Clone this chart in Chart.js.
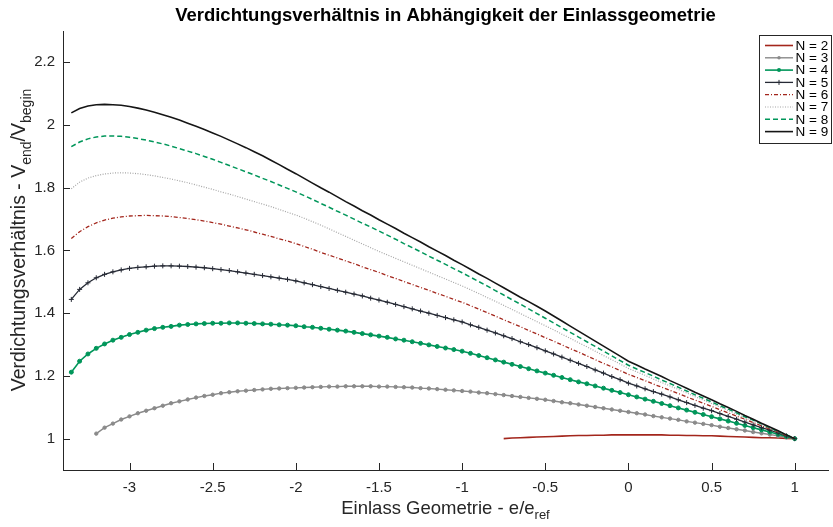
<!DOCTYPE html>
<html>
<head>
<meta charset="utf-8">
<script src="https://cdn.jsdelivr.net/npm/chart.js@4.4.1/dist/chart.umd.min.js"></script>
<style>
  html, body { margin: 0; padding: 0; background: #fff; }
  #wrap { width: 833px; height: 527px; }
</style>
</head>
<body>
<div id="wrap"><canvas id="chart" width="833" height="527"></canvas></div>
<script>
// ---- data ----
const xs = [
  -3.35, -3.3, -3.25, -3.2, -3.15, -3.1, -3.05, -3, -2.95, -2.9,
  -2.85, -2.8, -2.75, -2.7, -2.65, -2.6, -2.55, -2.5, -2.45, -2.4,
  -2.35, -2.3, -2.25, -2.2, -2.15, -2.1, -2.05, -2, -1.95, -1.9,
  -1.85, -1.8, -1.75, -1.7, -1.65, -1.6, -1.55, -1.5, -1.45, -1.4,
  -1.35, -1.3, -1.25, -1.2, -1.15, -1.1, -1.05, -1, -0.95, -0.9,
  -0.85, -0.8, -0.75, -0.7, -0.65, -0.6, -0.55, -0.5, -0.45, -0.4,
  -0.35, -0.3, -0.25, -0.2, -0.15, -0.1, -0.05, 0, 0.05, 0.1,
  0.15, 0.2, 0.25, 0.3, 0.35, 0.4, 0.45, 0.5, 0.55, 0.6,
  0.65, 0.7, 0.75, 0.8, 0.85, 0.9, 0.95, 1
];

// N = 2 starts at x = -0.75
const n2 = [
  1.000, 1.002, 1.003, 1.004, 1.005, 1.006, 1.007, 1.008, 1.009, 1.010,
  1.010, 1.011, 1.011, 1.012, 1.012, 1.012, 1.012, 1.012, 1.012, 1.012,
  1.011, 1.011, 1.010, 1.010, 1.009, 1.009, 1.008, 1.007, 1.006, 1.005,
  1.004, 1.003, 1.003, 1.002, 1.001, 1.000
];
// N = 3 starts at x = -3.2
const n3 = [
  1.016, 1.035, 1.048, 1.061, 1.071, 1.081, 1.089,
  1.097, 1.105, 1.113, 1.119, 1.125, 1.131, 1.136, 1.140, 1.145, 1.148,
  1.151, 1.153, 1.155, 1.157, 1.159, 1.160, 1.161, 1.162, 1.163, 1.164,
  1.165, 1.166, 1.166, 1.167, 1.167, 1.167, 1.167, 1.166, 1.166, 1.165,
  1.164, 1.163, 1.161, 1.160, 1.158, 1.156, 1.154, 1.152, 1.150, 1.147,
  1.145, 1.142, 1.139, 1.136, 1.133, 1.130, 1.127, 1.124, 1.120, 1.116,
  1.113, 1.109, 1.105, 1.101, 1.097, 1.093, 1.089, 1.085, 1.081, 1.077,
  1.072, 1.068, 1.064, 1.060, 1.055, 1.051, 1.047, 1.043, 1.038, 1.034,
  1.030, 1.026, 1.021, 1.017, 1.013, 1.009, 1.004, 1.000
];
const n4 = [
  1.212, 1.247, 1.270, 1.288, 1.302, 1.314, 1.323, 1.332, 1.339, 1.346,
  1.351, 1.355, 1.358, 1.362, 1.364, 1.366, 1.367, 1.368, 1.368, 1.369,
  1.369, 1.368, 1.367, 1.366, 1.365, 1.363, 1.362, 1.360, 1.357, 1.355,
  1.352, 1.349, 1.346, 1.343, 1.339, 1.335, 1.331, 1.327, 1.323, 1.318,
  1.314, 1.309, 1.304, 1.299, 1.294, 1.289, 1.284, 1.279, 1.272, 1.265,
  1.258, 1.251, 1.244, 1.237, 1.230, 1.223, 1.216, 1.209, 1.202, 1.195,
  1.188, 1.181, 1.175, 1.168, 1.161, 1.154, 1.147, 1.140, 1.133, 1.126,
  1.119, 1.112, 1.105, 1.098, 1.091, 1.084, 1.077, 1.070, 1.063, 1.056,
  1.049, 1.042, 1.035, 1.028, 1.021, 1.014, 1.007, 1.000
];
const n5 = [
  1.444, 1.476, 1.497, 1.513, 1.524, 1.532, 1.538, 1.543, 1.546, 1.548,
  1.550, 1.551, 1.551, 1.550, 1.549, 1.547, 1.545, 1.542, 1.539, 1.536,
  1.532, 1.528, 1.524, 1.520, 1.516, 1.512, 1.508, 1.503, 1.497, 1.491,
  1.485, 1.479, 1.473, 1.467, 1.461, 1.455, 1.448, 1.442, 1.435, 1.428,
  1.421, 1.414, 1.407, 1.400, 1.393, 1.386, 1.379, 1.372, 1.363, 1.355,
  1.346, 1.337, 1.328, 1.319, 1.309, 1.300, 1.290, 1.280, 1.270, 1.260,
  1.250, 1.240, 1.230, 1.219, 1.209, 1.198, 1.188, 1.177, 1.168, 1.159,
  1.150, 1.142, 1.133, 1.124, 1.115, 1.106, 1.097, 1.089, 1.080, 1.071,
  1.062, 1.053, 1.044, 1.035, 1.027, 1.018, 1.009, 1.000
];
const n6 = [
  1.638, 1.660, 1.676, 1.688, 1.697, 1.703, 1.707, 1.710, 1.711, 1.712,
  1.711, 1.710, 1.708, 1.705, 1.702, 1.698, 1.694, 1.689, 1.684, 1.678,
  1.672, 1.666, 1.659, 1.652, 1.645, 1.637, 1.630, 1.622, 1.613, 1.604,
  1.594, 1.585, 1.576, 1.567, 1.558, 1.548, 1.539, 1.530, 1.520, 1.511,
  1.501, 1.492, 1.482, 1.473, 1.463, 1.454, 1.444, 1.435, 1.424, 1.413,
  1.402, 1.391, 1.379, 1.368, 1.357, 1.345, 1.334, 1.322, 1.311, 1.299,
  1.287, 1.276, 1.264, 1.252, 1.240, 1.229, 1.217, 1.205, 1.195, 1.185,
  1.174, 1.164, 1.154, 1.144, 1.133, 1.123, 1.113, 1.103, 1.092, 1.082,
  1.072, 1.062, 1.051, 1.041, 1.031, 1.021, 1.010, 1.000
];
const n7 = [
  1.797, 1.818, 1.831, 1.839, 1.844, 1.847, 1.848, 1.847, 1.845, 1.842,
  1.838, 1.833, 1.828, 1.822, 1.816, 1.809, 1.802, 1.795, 1.787, 1.780,
  1.772, 1.764, 1.756, 1.748, 1.740, 1.731, 1.722, 1.713, 1.703, 1.692,
  1.681, 1.669, 1.657, 1.645, 1.633, 1.621, 1.609, 1.597, 1.586, 1.575,
  1.564, 1.553, 1.542, 1.531, 1.520, 1.509, 1.498, 1.487, 1.475, 1.463,
  1.450, 1.438, 1.425, 1.412, 1.399, 1.386, 1.373, 1.360, 1.347, 1.333,
  1.320, 1.306, 1.293, 1.279, 1.265, 1.252, 1.238, 1.224, 1.213, 1.202,
  1.190, 1.179, 1.168, 1.157, 1.146, 1.134, 1.123, 1.112, 1.101, 1.090,
  1.078, 1.067, 1.056, 1.045, 1.034, 1.022, 1.011, 1.000
];
const n8 = [
  1.931, 1.946, 1.956, 1.962, 1.965, 1.965, 1.964, 1.961, 1.957, 1.952,
  1.946, 1.940, 1.933, 1.925, 1.917, 1.909, 1.900, 1.891, 1.881, 1.871,
  1.861, 1.851, 1.841, 1.830, 1.820, 1.809, 1.798, 1.787, 1.775, 1.763,
  1.750, 1.738, 1.725, 1.713, 1.700, 1.687, 1.675, 1.662, 1.649, 1.636,
  1.622, 1.609, 1.596, 1.582, 1.569, 1.556, 1.542, 1.529, 1.515, 1.501,
  1.487, 1.472, 1.458, 1.443, 1.429, 1.414, 1.399, 1.384, 1.369, 1.354,
  1.339, 1.324, 1.309, 1.294, 1.279, 1.264, 1.249, 1.234, 1.222, 1.211,
  1.199, 1.187, 1.176, 1.164, 1.152, 1.140, 1.129, 1.117, 1.105, 1.094,
  1.082, 1.070, 1.059, 1.047, 1.035, 1.023, 1.012, 1.000
];
const n9 = [
  2.039, 2.053, 2.061, 2.065, 2.066, 2.065, 2.063, 2.059, 2.054, 2.048,
  2.041, 2.033, 2.025, 2.016, 2.006, 1.996, 1.986, 1.975, 1.964, 1.952,
  1.940, 1.928, 1.915, 1.902, 1.888, 1.874, 1.859, 1.845, 1.830, 1.815,
  1.800, 1.786, 1.771, 1.756, 1.742, 1.727, 1.713, 1.698, 1.684, 1.670,
  1.655, 1.641, 1.627, 1.612, 1.598, 1.584, 1.569, 1.555, 1.540, 1.525,
  1.511, 1.496, 1.481, 1.466, 1.451, 1.437, 1.422, 1.407, 1.391, 1.375,
  1.359, 1.343, 1.327, 1.311, 1.295, 1.279, 1.263, 1.247, 1.235, 1.222,
  1.210, 1.198, 1.185, 1.173, 1.161, 1.148, 1.136, 1.124, 1.111, 1.099,
  1.087, 1.074, 1.062, 1.049, 1.037, 1.025, 1.012, 1.000
];

const xTicks = [-3, -2.5, -2, -1.5, -1, -0.5, 0, 0.5, 1];
const yTicks = [1, 1.2, 1.4, 1.6, 1.8, 2, 2.2];

const FONT = '"Liberation Sans", Arial, Helvetica, sans-serif';
const INK = '#262626';
const RED = '#a3261c';
const GREEN = '#00965a';

function pts(values, startX) {
  const off = xs.indexOf(startX);
  return values.map((y, i) => ({ x: xs[off + i], y: y }));
}

// style per series (line + marker)
const series = [
  { label: 'N = 2', data: pts(n2, -0.75), color: RED, width: 1.6, dash: [], marker: null },
  { label: 'N = 3', data: pts(n3, -3.2), color: '#8a8a8a', width: 1.4, dash: [], marker: 'circle', r: 1.7 },
  { label: 'N = 4', data: pts(n4, -3.35), color: GREEN, width: 1.6, dash: [], marker: 'circle', r: 2 },
  { label: 'N = 5', data: pts(n5, -3.35), color: '#262a35', width: 1.3, dash: [], marker: 'cross', r: 2.5 },
  { label: 'N = 6', data: pts(n6, -3.35), color: RED, width: 1.3, dash: [4, 2, 1, 2], marker: null },
  { label: 'N = 7', data: pts(n7, -3.35), color: '#a6a6a6', width: 1.2, dash: [1, 1.5], marker: null },
  { label: 'N = 8', data: pts(n8, -3.35), color: GREEN, width: 1.5, dash: [5, 3], marker: null },
  { label: 'N = 9', data: pts(n9, -3.35), color: '#151515', width: 1.6, dash: [], marker: null }
];

const datasets = series.map((s, i) => ({
  label: s.label,
  data: s.data,
  borderColor: s.color,
  backgroundColor: s.color,
  borderWidth: s.width,
  borderDash: s.dash,
  pointStyle: s.marker || 'circle',
  pointRadius: s.marker ? s.r : 0,
  pointBorderWidth: 1,
  pointBackgroundColor: s.color,
  pointBorderColor: s.color,
  tension: 0,
  order: series.length - i
}));

function drawSubText(ctx, segs, cx, baseY, size, subSize, shift) {
  let total = 0;
  segs.forEach(s => {
    ctx.font = (s.sub ? subSize : size) + 'px ' + FONT;
    s.w = ctx.measureText(s.t).width;
    total += s.w;
  });
  let x = cx - total / 2;
  ctx.textAlign = 'left';
  ctx.textBaseline = 'alphabetic';
  segs.forEach(s => {
    ctx.font = (s.sub ? subSize : size) + 'px ' + FONT;
    ctx.fillText(s.t, x, baseY + (s.sub ? shift : 0));
    x += s.w;
  });
}

const decor = {
  id: 'decor',
  afterDraw(chart) {
    const ctx = chart.ctx;
    const sx = chart.scales.x, sy = chart.scales.y;
    const a = chart.chartArea;
    ctx.save();

    // ticks pointing into the plot
    ctx.strokeStyle = INK;
    ctx.lineWidth = 1;
    ctx.setLineDash([]);
    xTicks.forEach(v => {
      const p = Math.round(sx.getPixelForValue(v)) + 0.5;
      ctx.beginPath(); ctx.moveTo(p, a.bottom); ctx.lineTo(p, a.bottom - 7); ctx.stroke();
    });
    yTicks.forEach(v => {
      const p = Math.round(sy.getPixelForValue(v)) + 0.5;
      ctx.beginPath(); ctx.moveTo(a.left, p); ctx.lineTo(a.left + 7, p); ctx.stroke();
    });

    // title
    ctx.fillStyle = '#000';
    ctx.font = 'bold 18.5px ' + FONT;
    ctx.textAlign = 'center';
    ctx.textBaseline = 'middle';
    ctx.fillText('Verdichtungsverhältnis in Abhängigkeit der Einlassgeometrie', (a.left + a.right) / 2, 16);

    // axis titles
    ctx.fillStyle = INK;
    drawSubText(ctx, [{ t: 'Einlass Geometrie - e/e' }, { t: 'ref', sub: true }],
      (a.left + a.right) / 2, 514, 18.5, 13, 5);
    ctx.save();
    ctx.translate(25, 240);
    ctx.rotate(-Math.PI / 2);
    drawSubText(ctx, [
      { t: 'Verdichtungsverhältnis - V' }, { t: 'end', sub: true },
      { t: '/V' }, { t: 'begin', sub: true }
    ], 0, 0, 19.5, 14, 6);
    ctx.restore();

    // legend
    const lx = 759.5, ly = 35.5, lw = 72, lh = 108;
    ctx.fillStyle = '#fff';
    ctx.fillRect(lx, ly, lw, lh);
    ctx.strokeStyle = INK;
    ctx.lineWidth = 1;
    ctx.strokeRect(lx, ly, lw, lh);
    series.forEach((s, k) => {
      const y = 45.5 + k * 12.3;
      ctx.strokeStyle = s.color;
      ctx.lineWidth = s.width;
      ctx.setLineDash(s.dash);
      ctx.beginPath(); ctx.moveTo(765, y); ctx.lineTo(793, y); ctx.stroke();
      ctx.setLineDash([]);
      if (s.marker === 'circle') {
        ctx.fillStyle = s.color;
        ctx.beginPath(); ctx.arc(779, y, s.r, 0, Math.PI * 2); ctx.fill();
      } else if (s.marker === 'cross') {
        ctx.lineWidth = 1;
        ctx.beginPath();
        ctx.moveTo(779 - s.r, y); ctx.lineTo(779 + s.r, y);
        ctx.moveTo(779, y - s.r); ctx.lineTo(779, y + s.r);
        ctx.stroke();
      }
      ctx.fillStyle = '#000';
      ctx.font = '13.5px ' + FONT;
      ctx.textAlign = 'left';
      ctx.textBaseline = 'middle';
      ctx.fillText(s.label, 795.5, y + 0.5);
    });

    ctx.restore();
  }
};

new Chart(document.getElementById('chart').getContext('2d'), {
  type: 'line',
  data: { datasets: datasets },
  options: {
    responsive: false,
    animation: false,
    events: [],
    layout: { padding: { left: 0, right: 2, top: 31, bottom: 0 } },
    plugins: {
      legend: { display: false },
      tooltip: { enabled: false },
      title: { display: false }
    },
    scales: {
      x: {
        type: 'linear',
        min: -3.4,
        max: 1.2,
        afterBuildTicks: s => { s.ticks = xTicks.map(v => ({ value: v })); },
        afterFit: s => { s.height = 57; },
        grid: { display: false, drawTicks: false },
        border: { display: true, color: INK, width: 1 },
        ticks: {
          color: INK,
          padding: 9,
          maxRotation: 0,
          autoSkip: false,
          font: { family: FONT, size: 15 },
          callback: v => String(v)
        }
      },
      y: {
        type: 'linear',
        min: 0.9,
        max: 2.3,
        afterBuildTicks: s => { s.ticks = yTicks.map(v => ({ value: v })); },
        afterFit: s => { s.width = 63; },
        grid: { display: false, drawTicks: false },
        border: { display: true, color: INK, width: 1 },
        ticks: {
          color: INK,
          padding: 8,
          autoSkip: false,
          font: { family: FONT, size: 15 },
          callback: v => String(v)
        }
      }
    }
  },
  plugins: [decor]
});
</script>
</body>
</html>
